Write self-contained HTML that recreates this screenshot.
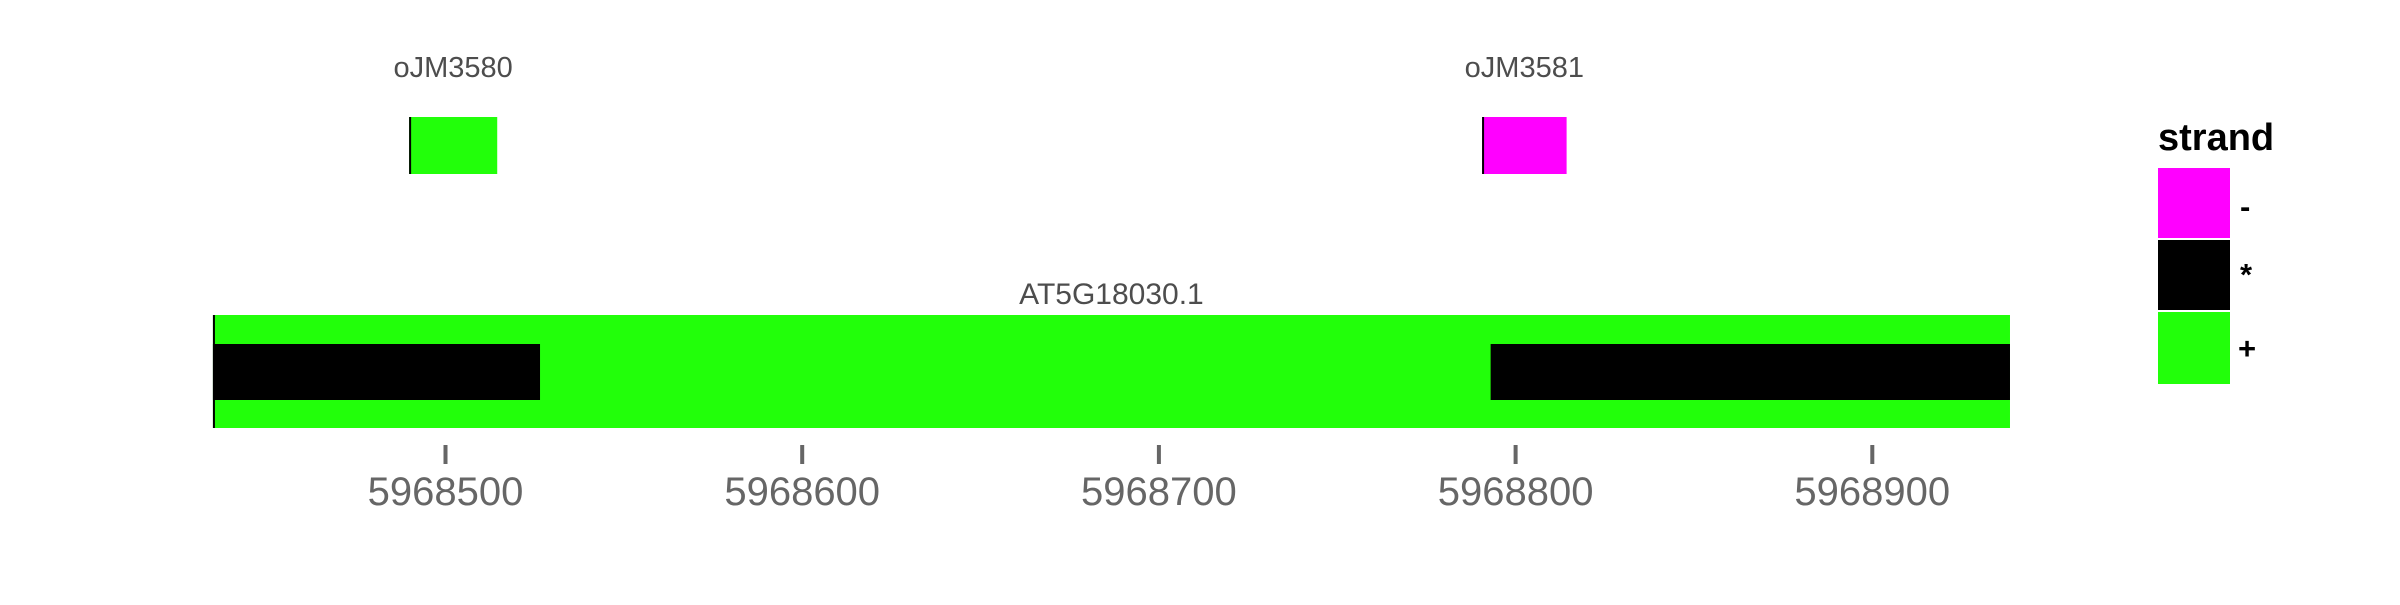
<!DOCTYPE html>
<html><head><meta charset="utf-8"><style>
body{margin:0;background:#fff;width:2400px;height:600px;overflow:hidden}
svg text{font-family:"Liberation Sans",Arial,sans-serif}
</style></head><body>
<svg id="chart" width="2400" height="600">
<g id="marks"></g><g id="axis"></g>
<g>
<text x="2158" y="150" font-size="38" font-weight="bold" fill="#000">strand</text>
<rect x="2158" y="168" width="72" height="70" fill="#ff00ff"/>
<text x="2240" y="217" font-size="31" font-weight="bold">-</text>
<rect x="2158" y="240" width="72" height="70" fill="#000"/>
<text x="2240" y="285" font-size="31" font-weight="bold">*</text>
<rect x="2158" y="312" width="72" height="72" fill="#22ff0a"/>
<text x="2238" y="359" font-size="31" font-weight="bold">+</text>
</g>
</svg>
<script>
const ticks=[5968500,5968600,5968700,5968800,5968900];
const geneName=["AT5G18030.1"];
const geneStart=[5968434.8];
const geneEnd=[5968938.6];
const cdsStart=[5968434.8,5968793];
const cdsEnd=[5968526.5,5968938.6];
const primerNames=["oJM3580","oJM3581"];
const primerStart=[5968489.8,5968790.6];
const primerEnd=[5968514.5,5968814.3];
const primerStrand=["+","-"];
const colors={"+":"#22ff0a","-":"#ff00ff","*":"#000"};
const ns="http://www.w3.org/2000/svg";
const x=v=>445.5+(v-5968500)*3.567;
const marks=document.getElementById('marks'),axis=document.getElementById('axis');
function mk(tag,attrs,parent){const e=document.createElementNS(ns,tag);for(const k in attrs)e.setAttribute(k,attrs[k]);parent.appendChild(e);return e;}
geneStart.forEach((s,i)=>{
 const r=mk('rect',{x:x(s),y:315,width:x(geneEnd[i])-x(s),height:113,fill:colors['+']},marks);
 
 
 const l=mk('rect',{x:x(s),y:315,width:2,height:113,fill:'#000'},marks);
 
 
 const t=mk('text',{x:(x(s)+x(geneEnd[i]))/2,y:304,'font-size':30,fill:'#4d4d4d','text-anchor':'middle'},marks);
 t.textContent=geneName[i];
 
 
});
cdsStart.forEach((s,i)=>{
 const r=mk('rect',{x:x(s),y:344,width:x(cdsEnd[i])-x(s),height:56,fill:'#000'},marks);
 
 
});
primerStart.forEach((s,i)=>{
 const r=mk('rect',{x:x(s),y:117,width:x(primerEnd[i])-x(s),height:57,fill:colors[primerStrand[i]]},marks);
 
 
 const l=mk('rect',{x:x(s),y:117,width:2,height:57,fill:'#000'},marks);
 
 
 const t=mk('text',{x:(x(s)+x(primerEnd[i]))/2,y:77,'font-size':29,fill:'#4d4d4d','text-anchor':'middle'},marks);
 t.textContent=primerNames[i];
 
 
});
ticks.forEach(v=>{
 const tk=mk('rect',{x:x(v)-2,y:445,width:4,height:19,fill:'#666'},axis);
 
 
 const t=mk('text',{x:x(v),y:505,'font-size':40,fill:'#666','text-anchor':'middle'},axis);
 t.textContent=v;
 
 
});
</script>
</body></html>
